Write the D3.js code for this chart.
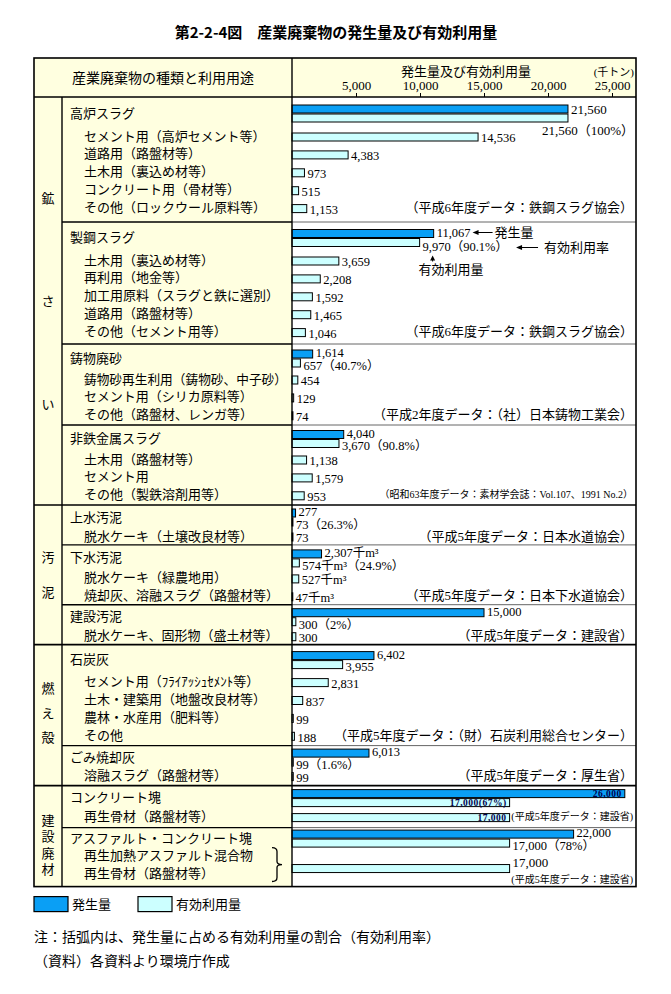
<!DOCTYPE html>
<html lang="ja">
<head>
<meta charset="utf-8">
<script src="https://cdn.jsdelivr.net/npm/d3@7/dist/d3.min.js"></script>
<style>
  body { margin: 0; background: #fff; }
  svg text { font-family: "Liberation Serif", "Noto Sans CJK JP", serif; fill: #000; }
  svg text.title { font-family: "Noto Sans CJK JP", sans-serif; font-weight: bold; }
</style>
</head>
<body>
<div id="main"></div>
<script>
// data (千トン)
const categories = ["鉱さい", "汚泥", "燃え殻", "建設廃材"];
const categorySize = [4, 3, 2, 2];
const sections = ["高炉スラグ", "製鋼スラグ", "鋳物廃砂", "非鉄金属スラグ", "上水汚泥", "下水汚泥",
  "建設汚泥", "石炭灰", "ごみ焼却灰", "コンクリート塊", "アスファルト・コンクリート塊"];
const generated = [21560, 11067, 1614, 4040, 277, 2307, 15000, 6402, 6013, 26000, 22000];
const utilized = [21560, 9970, 657, 3670, 73, 574, 300, 3955, 99, 17000, 17000];
const rates = ["100%", "90.1%", "40.7%", "90.8%", "26.3%", "24.9%", "2%", "", "1.6%", "67%", "78%"];
const units = ["", "", "", "", "", "千m³", "", "", "", "", ""];
const useLabels = [
  ["セメント用（高炉セメント等）", "道路用（路盤材等）", "土木用（裏込め材等）", "コンクリート用（骨材等）", "その他（ロックウール原料等）"],
  ["土木用（裏込め材等）", "再利用（地金等）", "加工用原料（スラグと鉄に選別）", "道路用（路盤材等）", "その他（セメント用等）"],
  ["鋳物砂再生利用（鋳物砂、中子砂）", "セメント用（シリカ原料等）", "その他（路盤材、レンガ等）"],
  ["土木用（路盤材等）", "セメント用", "その他（製鉄溶剤用等）"],
  ["脱水ケーキ（土壌改良材等）"],
  ["脱水ケーキ（緑農地用）", "焼却灰、溶融スラグ（路盤材等）"],
  ["脱水ケーキ、固形物（盛土材等）"],
  ["セメント用（ﾌﾗｲｱｯｼｭｾﾒﾝﾄ等）", "土木・建築用（地盤改良材等）", "農林・水産用（肥料等）", "その他"],
  ["溶融スラグ（路盤材等）"],
  ["再生骨材（路盤材等）"],
  ["再生加熱アスファルト混合物", "再生骨材（路盤材等）"]
];
const useValues = [
  [14536, 4383, 973, 515, 1153],
  [3659, 2208, 1592, 1465, 1046],
  [454, 129, 74],
  [1138, 1579, 953],
  [73],
  [527, 47],
  [300],
  [2831, 837, 99, 188],
  [99],
  [17000],
  [17000]
];
const sources = [
  "（平成6年度データ：鉄鋼スラグ協会）",
  "（平成6年度データ：鉄鋼スラグ協会）",
  "（平成2年度データ：（社）日本鋳物工業会）",
  "（昭和63年度データ：素材学会誌：Vol.107、1991 No.2）",
  "（平成5年度データ：日本水道協会）",
  "（平成5年度データ：日本下水道協会）",
  "（平成5年度データ：建設省）",
  "（平成5年度データ：（財）石炭利用総合センター）",
  "（平成5年度データ：厚生省）",
  "(平成5年度データ：建設省)",
  "(平成5年度データ：建設省)"
];
const ticks = [5000, 10000, 15000, 20000, 25000];
const legendLabels = ["発生量", "有効利用量"];

// layout
const w = 671, h = 994;
const left = 34, right = 636, catRight = 62, labelRight = 292;
const tableTop = 58, headBottom = 97;
const rowH = 17.9;
const headH = [30, 29, 26, 25, 22, 24, 22, 28, 21, 22, 19];
const tailH = [5.5, 3.5, 1.3, 1.3, 0, 0, 0, 1.4, 1.1, 2.1, 4.2];
const labelMode = ["below", "arrows", "", "", "", "", "", "", "", "inside", ""];
const sourceSize = [13, 13, 13, 10, 13, 13, 13, 13, 13, 10, 10];
const catStep = [103, 35, 24.5, 16.5];
const catShift = [0, 0, -2, 9];
const blue = "#0a9ff5", pale = "#ccffff", cream = "#ffffe0";

const svg = d3.select("#main").append("svg")
  .attr("width", w)
  .attr("height", h);

const x = d3.scaleLinear().domain([0, 25000]).range([labelRight, 612]);
const fmt = d3.format(",");

const tops = [];
let cursor = headBottom;
sections.forEach((s, i) => {
  tops.push(cursor);
  cursor += headH[i] + useLabels[i].length * rowH + tailH[i];
});
const bottom = cursor;
const barTop = i => tops[i] + headH[i] / 2 - 7;
const rowY = (i, j) => tops[i] + headH[i] + 9 + j * rowH;

// backgrounds
svg.append("rect")
  .attr("x", left).attr("y", tableTop)
  .attr("width", right - left).attr("height", headBottom - tableTop)
  .attr("fill", cream);
svg.append("rect")
  .attr("x", left).attr("y", headBottom)
  .attr("width", labelRight - left).attr("height", bottom - headBottom)
  .attr("fill", cream);

// title + header
svg.append("text")
  .attr("class", "title")
  .attr("x", 336).attr("y", 33).attr("dy", "0.35em")
  .attr("text-anchor", "middle")
  .attr("font-size", 15)
  .text("第2-2-4図　産業廃棄物の発生量及び有効利用量");

svg.append("text")
  .attr("x", (left + labelRight) / 2).attr("y", 78).attr("dy", "0.35em")
  .attr("text-anchor", "middle")
  .attr("font-size", 14)
  .text("産業廃棄物の種類と利用用途");

svg.append("text")
  .attr("x", 466).attr("y", 71).attr("dy", "0.35em")
  .attr("text-anchor", "middle")
  .attr("font-size", 13)
  .text("発生量及び有効利用量");

svg.append("text")
  .attr("x", 634).attr("y", 72).attr("dy", "0.35em")
  .attr("text-anchor", "end")
  .attr("font-size", 11)
  .text("(千トン)");

const axis = d3.axisTop(x)
  .tickValues(ticks)
  .tickSize(4)
  .tickPadding(3)
  .tickFormat(fmt);

const gAxis = svg.append("g")
  .attr("transform", "translate(0," + headBottom + ")")
  .call(axis);
gAxis.select(".domain").remove();
gAxis.attr("font-size", 13);
gAxis.selectAll("line").attr("stroke", "#000");

// helpers
function label(xp, yp, txt, size, anchor) {
  return svg.append("text")
    .attr("x", xp).attr("y", yp).attr("dy", "0.35em")
    .attr("text-anchor", anchor || "start")
    .attr("font-size", size || 13)
    .text(txt);
}
function bar(v, yTop, fill) {
  svg.append("rect")
    .attr("x", x(0)).attr("y", yTop)
    .attr("width", Math.max(x(v) - x(0), 0.8))
    .attr("height", 8)
    .attr("fill", fill)
    .attr("stroke", "#000")
    .attr("stroke-width", 1);
}
function endOf(t) {
  return +t.attr("x") + t.node().getComputedTextLength();
}
function arrowLeft(x1, x2, yp) {
  svg.append("line")
    .attr("x1", x1 + 4).attr("x2", x2).attr("y1", yp).attr("y2", yp)
    .attr("stroke", "#000").attr("stroke-width", 1);
  svg.append("path")
    .attr("d", `M${x1},${yp}L${x1 + 6},${yp - 2.5}L${x1 + 6},${yp + 2.5}Z`)
    .attr("fill", "#000");
}
function arrowUp(xp, y1, y2) {
  svg.append("line")
    .attr("x1", xp).attr("x2", xp).attr("y1", y1 + 4).attr("y2", y2)
    .attr("stroke", "#000").attr("stroke-width", 1);
  svg.append("path")
    .attr("d", `M${xp},${y1}L${xp - 2.5},${y1 + 5}L${xp + 2.5},${y1 + 5}Z`)
    .attr("fill", "#000");
}
function inside(v, yc, txt) {
  svg.append("text")
    .attr("x", x(v) - 3).attr("y", yc).attr("dy", "0.35em")
    .attr("text-anchor", "end")
    .attr("font-size", 9.5)
    .attr("font-weight", "bold")
    .style("fill", "#00004d")
    .style("letter-spacing", "0.5px")
    .text(txt);
}

// sections
sections.forEach((name, i) => {
  const b = barTop(i);
  const mode = labelMode[i];
  const unit = units[i];
  const genTxt = fmt(generated[i]) + unit;
  const utilTxt = fmt(utilized[i]) + unit + (rates[i] ? "（" + rates[i] + "）" : "");

  label(70, tops[i] + headH[i] / 2 + 1, name);

  bar(generated[i], b, blue);
  bar(utilized[i], b + 9, pale);

  if (mode === "inside") {
    inside(generated[i], b + 4, genTxt);
    inside(utilized[i], b + 13, utilTxt.replace("（", "(").replace("）", ")"));
  } else if (mode === "below") {
    label(x(generated[i]) + 3, b + 4, genTxt);
    label(634, b + 25, utilTxt, 13, "end");
  } else if (mode === "arrows") {
    const g = label(x(generated[i]) + 3, b + 3, genTxt, 12.5);
    const ge = endOf(g);
    arrowLeft(ge + 2, ge + 22, b + 3);
    label(ge + 24, b + 3, "発生量");
    const ux = x(utilized[i]) + 3;
    const u = label(ux, b + 17.5, utilTxt, 12.5);
    const ue = endOf(u);
    arrowLeft(ue + 8, ue + 30, b + 18);
    label(ue + 36, b + 18, "有効利用率");
    arrowUp(ux + 10, b + 26, b + 32);
    label(ux - 4, b + 40, "有効利用量");
  } else {
    label(x(generated[i]) + 3, b + 3, genTxt, 12.5);
    label(x(utilized[i]) + 3, b + 15.5, utilTxt, 12.5);
  }

  // usage rows
  const labels = useLabels[i];
  labels.forEach((u, j) => {
    const t = label(84, rowY(i, j), u);
    if (t.node().getComputedTextLength() > 203) {
      t.attr("textLength", 203).attr("lengthAdjust", "spacingAndGlyphs");
    }
  });

  const vals = useValues[i];
  if (vals.length < labels.length) {
    // one value shared by the bracketed rows
    const r0 = rowY(i, 0), r1 = rowY(i, labels.length - 1);
    const yc = (r0 + r1) / 2 + 4;
    bar(vals[0], yc - 4, pale);
    label(x(vals[0]) + 3, yc - 6, fmt(vals[0]));
    label(633, yc + 11, sources[i], sourceSize[i], "end");
    const bx = 272, bw = 5, y0 = r0 - 8, y1 = r1 + 8, ym = (y0 + y1) / 2;
    svg.append("path")
      .attr("d", `M${bx},${y0}Q${bx + bw},${y0} ${bx + bw},${y0 + 4}L${bx + bw},${ym - 3}` +
        `Q${bx + bw},${ym} ${bx + 2 * bw},${ym}Q${bx + bw},${ym} ${bx + bw},${ym + 3}` +
        `L${bx + bw},${y1 - 4}Q${bx + bw},${y1} ${bx},${y1}`)
      .attr("fill", "none")
      .attr("stroke", "#000")
      .attr("stroke-width", 1.3);
  } else {
    vals.forEach((v, j) => {
      const yc = rowY(i, j) + 1;
      bar(v, yc - 4, pale);
      if (mode === "inside") inside(v, yc, fmt(v));
      else label(x(v) + 3, yc + 1, fmt(v) + unit, 12.5);
    });
    label(633, rowY(i, labels.length - 1), sources[i], sourceSize[i], "end");
  }
});

// grid lines
const groupStarts = [];
let k = 0;
categorySize.forEach(n => { groupStarts.push(k); k += n; });

tops.forEach((t, i) => {
  if (i === 0) return;
  if (groupStarts.includes(i)) {
    svg.append("line")
      .attr("x1", left).attr("x2", right).attr("y1", t).attr("y2", t)
      .attr("stroke", "#000").attr("stroke-width", 1.6);
  } else {
    svg.append("line")
      .attr("x1", catRight).attr("x2", labelRight).attr("y1", t).attr("y2", t)
      .attr("stroke", "#000").attr("stroke-width", 1.4);
    svg.append("line")
      .attr("x1", labelRight).attr("x2", right).attr("y1", t).attr("y2", t)
      .attr("stroke", "#666").attr("stroke-width", 1);
  }
});

svg.append("line")
  .attr("x1", left).attr("x2", right).attr("y1", headBottom).attr("y2", headBottom)
  .attr("stroke", "#000").attr("stroke-width", 1.6);
svg.append("line")
  .attr("x1", catRight).attr("x2", catRight).attr("y1", headBottom).attr("y2", bottom)
  .attr("stroke", "#000").attr("stroke-width", 1.4);
svg.append("line")
  .attr("x1", labelRight).attr("x2", labelRight).attr("y1", tableTop).attr("y2", bottom)
  .attr("stroke", "#000").attr("stroke-width", 1.4);
svg.append("rect")
  .attr("x", left).attr("y", tableTop)
  .attr("width", right - left).attr("height", bottom - tableTop)
  .attr("fill", "none")
  .attr("stroke", "#000")
  .attr("stroke-width", 1.6);

// category column, written top to bottom
categories.forEach((c, i) => {
  const s = groupStarts[i];
  const e = s + categorySize[i];
  const y0 = tops[s];
  const y1 = e < tops.length ? tops[e] : bottom;
  const mid = (y0 + y1) / 2 + catShift[i];
  const chars = Array.from(c);
  chars.forEach((ch, j) => {
    label((left + catRight) / 2, mid + (j - (chars.length - 1) / 2) * catStep[i], ch, 13, "middle");
  });
});

// legend
const legendFill = [blue, pale];
const legendX = [34, 138];
legendLabels.forEach((l, i) => {
  svg.append("rect")
    .attr("x", legendX[i]).attr("y", bottom + 10)
    .attr("width", 34).attr("height", 15)
    .attr("fill", legendFill[i])
    .attr("stroke", "#000")
    .attr("stroke-width", 1.2);
  label(legendX[i] + 38, bottom + 18, l, 13);
});

label(34, 937, "注：括弧内は、発生量に占める有効利用量の割合（有効利用率）", 14);
label(34, 961, "（資料）各資料より環境庁作成", 14);
</script>
</body>
</html>
